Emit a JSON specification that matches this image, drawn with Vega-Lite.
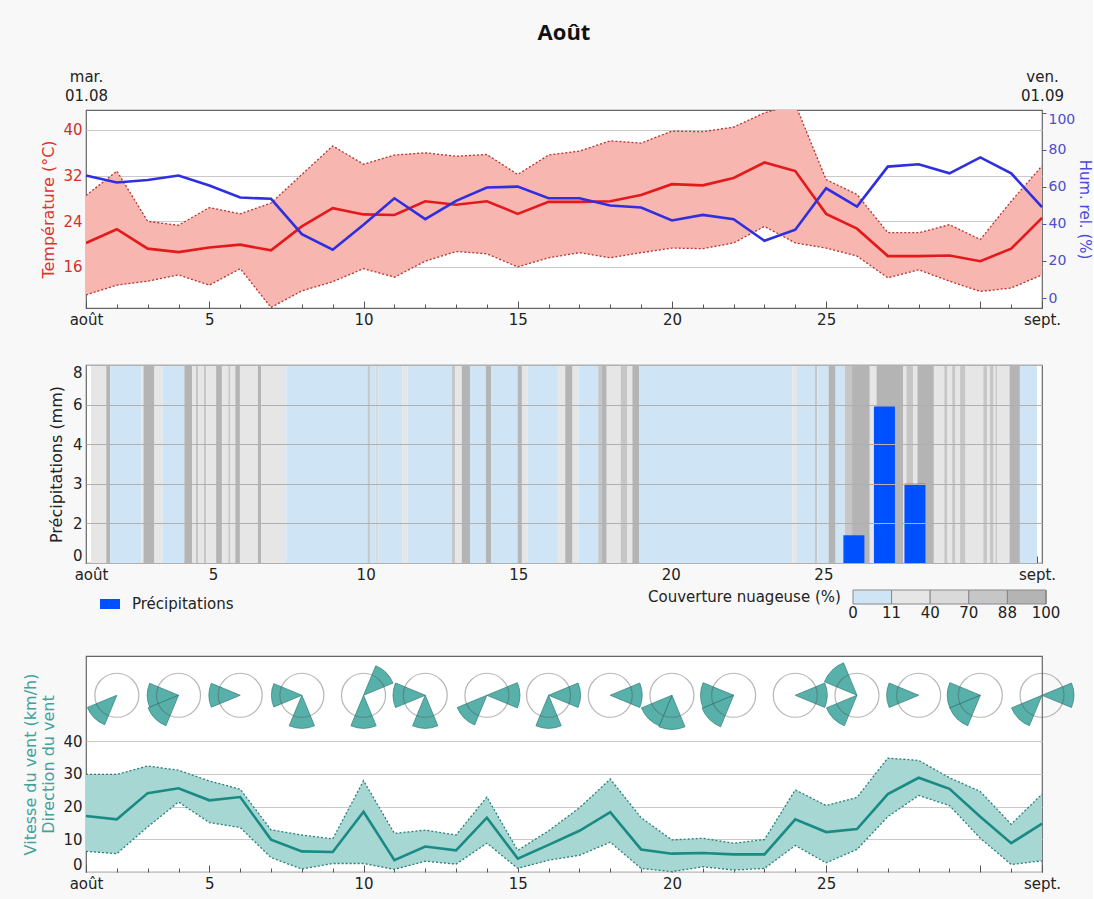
{
  "$schema": "https://vega.github.io/schema/vega-lite/v6.json",
  "background": "#f8f8f8",
  "padding": {"left": 22, "right": 0, "top": 21, "bottom": 4},
  "config": {
    "view": {"fill": "#ffffff", "stroke": "#666666", "strokeWidth": 1.2},
    "axis": {"labelFont": "DejaVu Sans", "titleFont": "DejaVu Sans", "labelFontSize": 15, "titleFontSize": 16, "titleFontWeight": "normal", "labelColor": "#222222", "titleColor": "#222222", "gridColor": "#c9c9c9", "domain": false},
    "legend": {"labelFont": "DejaVu Sans", "titleFont": "DejaVu Sans", "labelFontSize": 15, "titleFontSize": 15, "titleFontWeight": "normal", "labelColor": "#222222", "titleColor": "#222222"}
  },
  "datasets": {
    "temp": [
      {"jour": 1, "tmin": 11.1, "tmoy": 20.2, "tmax": 28.5, "hum": 66.2},
      {"jour": 2, "tmin": 12.8, "tmoy": 22.6, "tmax": 32.8, "hum": 62.4},
      {"jour": 3, "tmin": 13.5, "tmoy": 19.2, "tmax": 24.0, "hum": 63.8},
      {"jour": 4, "tmin": 14.6, "tmoy": 18.6, "tmax": 23.3, "hum": 66.2},
      {"jour": 5, "tmin": 12.8, "tmoy": 19.4, "tmax": 26.4, "hum": 60.8},
      {"jour": 6, "tmin": 15.7, "tmoy": 19.9, "tmax": 25.3, "hum": 54.3},
      {"jour": 7, "tmin": 8.9, "tmoy": 18.9, "tmax": 27.2, "hum": 53.6},
      {"jour": 8, "tmin": 11.8, "tmoy": 23.1, "tmax": 32.2, "hum": 34.5},
      {"jour": 9, "tmin": 13.4, "tmoy": 26.3, "tmax": 37.2, "hum": 26.1},
      {"jour": 10, "tmin": 15.7, "tmoy": 25.2, "tmax": 34.0, "hum": 39.6},
      {"jour": 11, "tmin": 14.2, "tmoy": 25.1, "tmax": 35.6, "hum": 53.9},
      {"jour": 12, "tmin": 17.0, "tmoy": 27.5, "tmax": 36.0, "hum": 42.6},
      {"jour": 13, "tmin": 18.7, "tmoy": 26.9, "tmax": 35.4, "hum": 52.5},
      {"jour": 14, "tmin": 18.3, "tmoy": 27.5, "tmax": 35.7, "hum": 59.7},
      {"jour": 15, "tmin": 16.0, "tmoy": 25.3, "tmax": 32.2, "hum": 60.2},
      {"jour": 16, "tmin": 17.6, "tmoy": 27.4, "tmax": 35.6, "hum": 53.9},
      {"jour": 17, "tmin": 18.5, "tmoy": 27.4, "tmax": 36.3, "hum": 53.9},
      {"jour": 18, "tmin": 17.6, "tmoy": 27.5, "tmax": 38.1, "hum": 50.0},
      {"jour": 19, "tmin": 18.5, "tmoy": 28.6, "tmax": 37.7, "hum": 48.9},
      {"jour": 20, "tmin": 19.3, "tmoy": 30.5, "tmax": 39.8, "hum": 41.9},
      {"jour": 21, "tmin": 19.2, "tmoy": 30.3, "tmax": 39.7, "hum": 44.9},
      {"jour": 22, "tmin": 20.2, "tmoy": 31.6, "tmax": 40.5, "hum": 42.6},
      {"jour": 23, "tmin": 23.1, "tmoy": 34.3, "tmax": 43.0, "hum": 30.9},
      {"jour": 24, "tmin": 20.2, "tmoy": 32.8, "tmax": 44.5, "hum": 36.9},
      {"jour": 25, "tmin": 19.3, "tmoy": 25.3, "tmax": 31.3, "hum": 59.3},
      {"jour": 26, "tmin": 17.9, "tmoy": 22.7, "tmax": 28.7, "hum": 49.4},
      {"jour": 27, "tmin": 14.1, "tmoy": 17.9, "tmax": 22.0, "hum": 71.0},
      {"jour": 28, "tmin": 15.5, "tmoy": 17.9, "tmax": 22.0, "hum": 72.3},
      {"jour": 29, "tmin": 13.5, "tmoy": 18.0, "tmax": 23.4, "hum": 67.4},
      {"jour": 30, "tmin": 11.7, "tmoy": 17.0, "tmax": 20.8, "hum": 76.0},
      {"jour": 31, "tmin": 12.3, "tmoy": 19.2, "tmax": 27.5, "hum": 67.4},
      {"jour": 32, "tmin": 14.6, "tmoy": 24.6, "tmax": 33.7, "hum": 49.1}
    ],
    "vent": [
      {"jour": 1, "vmin": 6.3, "vmoy": 17.1, "vmax": 29.8},
      {"jour": 2, "vmin": 5.6, "vmoy": 16.1, "vmax": 29.8},
      {"jour": 3, "vmin": 13.8, "vmoy": 24.1, "vmax": 32.4},
      {"jour": 4, "vmin": 21.4, "vmoy": 25.6, "vmax": 31.1},
      {"jour": 5, "vmin": 15.1, "vmoy": 21.9, "vmax": 27.8},
      {"jour": 6, "vmin": 13.6, "vmoy": 22.9, "vmax": 25.3},
      {"jour": 7, "vmin": 4.4, "vmoy": 9.9, "vmax": 12.9},
      {"jour": 8, "vmin": 0.9, "vmoy": 6.3, "vmax": 11.3},
      {"jour": 9, "vmin": 2.6, "vmoy": 6.1, "vmax": 10.1},
      {"jour": 10, "vmin": 2.6, "vmoy": 18.4, "vmax": 27.9},
      {"jour": 11, "vmin": 0.8, "vmoy": 3.6, "vmax": 11.8},
      {"jour": 12, "vmin": 3.3, "vmoy": 7.8, "vmax": 12.8},
      {"jour": 13, "vmin": 2.4, "vmoy": 6.6, "vmax": 11.3},
      {"jour": 14, "vmin": 8.8, "vmoy": 16.6, "vmax": 22.9},
      {"jour": 15, "vmin": 1.1, "vmoy": 4.1, "vmax": 6.6},
      {"jour": 16, "vmin": 3.6, "vmoy": 8.3, "vmax": 12.6},
      {"jour": 17, "vmin": 5.1, "vmoy": 12.6, "vmax": 19.6},
      {"jour": 18, "vmin": 9.1, "vmoy": 18.3, "vmax": 28.4},
      {"jour": 19, "vmin": 1.1, "vmoy": 6.9, "vmax": 16.6},
      {"jour": 20, "vmin": 0.1, "vmoy": 5.6, "vmax": 9.8},
      {"jour": 21, "vmin": 1.6, "vmoy": 5.8, "vmax": 10.3},
      {"jour": 22, "vmin": 0.6, "vmoy": 5.4, "vmax": 8.8},
      {"jour": 23, "vmin": 1.1, "vmoy": 5.4, "vmax": 9.9},
      {"jour": 24, "vmin": 8.1, "vmoy": 16.1, "vmax": 25.1},
      {"jour": 25, "vmin": 2.8, "vmoy": 12.2, "vmax": 20.3},
      {"jour": 26, "vmin": 6.9, "vmoy": 13.1, "vmax": 22.8},
      {"jour": 27, "vmin": 16.9, "vmoy": 23.8, "vmax": 34.8},
      {"jour": 28, "vmin": 23.4, "vmoy": 28.8, "vmax": 34.1},
      {"jour": 29, "vmin": 20.3, "vmoy": 25.4, "vmax": 28.8},
      {"jour": 30, "vmin": 10.3, "vmoy": 16.9, "vmax": 24.6},
      {"jour": 31, "vmin": 2.3, "vmoy": 8.8, "vmax": 14.6},
      {"jour": 32, "vmin": 3.4, "vmoy": 14.8, "vmax": 23.8}
    ],
    "pluie": [
      {"jour": 26, "precip": 1.4},
      {"jour": 27, "precip": 5.9},
      {"jour": 28, "precip": 3.0}
    ],
    "nuages": [
      {"debut": 1.00, "fin": 1.50, "classe": 2}, {"debut": 1.50, "fin": 1.63, "classe": 5},
      {"debut": 1.63, "fin": 2.65, "classe": 1}, {"debut": 2.65, "fin": 2.72, "classe": 2},
      {"debut": 2.72, "fin": 3.08, "classe": 5}, {"debut": 3.08, "fin": 3.35, "classe": 2},
      {"debut": 3.35, "fin": 4.06, "classe": 1}, {"debut": 4.06, "fin": 4.32, "classe": 5},
      {"debut": 4.32, "fin": 4.44, "classe": 2}, {"debut": 4.44, "fin": 4.52, "classe": 4},
      {"debut": 4.52, "fin": 4.70, "classe": 2}, {"debut": 4.70, "fin": 4.78, "classe": 4},
      {"debut": 4.78, "fin": 5.10, "classe": 2}, {"debut": 5.10, "fin": 5.29, "classe": 5},
      {"debut": 5.29, "fin": 5.50, "classe": 2}, {"debut": 5.50, "fin": 5.57, "classe": 4},
      {"debut": 5.57, "fin": 5.73, "classe": 2}, {"debut": 5.73, "fin": 5.88, "classe": 5},
      {"debut": 5.88, "fin": 6.47, "classe": 2}, {"debut": 6.47, "fin": 6.58, "classe": 5},
      {"debut": 6.58, "fin": 7.40, "classe": 2}, {"debut": 7.40, "fin": 10.06, "classe": 1},
      {"debut": 10.06, "fin": 10.14, "classe": 4}, {"debut": 10.14, "fin": 10.32, "classe": 1},
      {"debut": 10.32, "fin": 10.42, "classe": 3}, {"debut": 10.42, "fin": 11.20, "classe": 1},
      {"debut": 11.20, "fin": 11.38, "classe": 2}, {"debut": 11.38, "fin": 12.83, "classe": 1},
      {"debut": 12.83, "fin": 12.94, "classe": 4}, {"debut": 12.94, "fin": 13.15, "classe": 2},
      {"debut": 13.15, "fin": 13.42, "classe": 5}, {"debut": 13.42, "fin": 13.94, "classe": 1},
      {"debut": 13.94, "fin": 14.12, "classe": 5}, {"debut": 14.12, "fin": 14.98, "classe": 1},
      {"debut": 14.98, "fin": 15.12, "classe": 5}, {"debut": 15.12, "fin": 15.30, "classe": 2},
      {"debut": 15.30, "fin": 16.30, "classe": 1}, {"debut": 16.30, "fin": 16.54, "classe": 2},
      {"debut": 16.54, "fin": 16.78, "classe": 5}, {"debut": 16.78, "fin": 16.97, "classe": 2},
      {"debut": 16.97, "fin": 17.62, "classe": 1}, {"debut": 17.62, "fin": 17.74, "classe": 4},
      {"debut": 17.74, "fin": 17.90, "classe": 5}, {"debut": 17.90, "fin": 18.36, "classe": 2},
      {"debut": 18.36, "fin": 18.58, "classe": 4}, {"debut": 18.58, "fin": 18.74, "classe": 2},
      {"debut": 18.74, "fin": 18.96, "classe": 5}, {"debut": 18.96, "fin": 23.98, "classe": 1},
      {"debut": 23.98, "fin": 24.13, "classe": 2}, {"debut": 24.13, "fin": 24.72, "classe": 1},
      {"debut": 24.72, "fin": 24.80, "classe": 4}, {"debut": 24.80, "fin": 25.17, "classe": 1},
      {"debut": 25.17, "fin": 25.40, "classe": 5}, {"debut": 25.40, "fin": 25.70, "classe": 1},
      {"debut": 25.70, "fin": 25.94, "classe": 4}, {"debut": 25.94, "fin": 26.52, "classe": 5},
      {"debut": 26.52, "fin": 26.74, "classe": 2}, {"debut": 26.74, "fin": 27.62, "classe": 5},
      {"debut": 27.62, "fin": 27.72, "classe": 2}, {"debut": 27.72, "fin": 27.95, "classe": 4},
      {"debut": 27.95, "fin": 28.08, "classe": 2}, {"debut": 28.08, "fin": 28.62, "classe": 5},
      {"debut": 28.62, "fin": 28.96, "classe": 2}, {"debut": 28.96, "fin": 29.07, "classe": 4},
      {"debut": 29.07, "fin": 29.22, "classe": 2}, {"debut": 29.22, "fin": 29.33, "classe": 4},
      {"debut": 29.33, "fin": 29.48, "classe": 2}, {"debut": 29.48, "fin": 29.66, "classe": 4},
      {"debut": 29.66, "fin": 30.24, "classe": 2}, {"debut": 30.24, "fin": 30.36, "classe": 4},
      {"debut": 30.36, "fin": 30.46, "classe": 2}, {"debut": 30.46, "fin": 30.58, "classe": 4},
      {"debut": 30.58, "fin": 30.64, "classe": 2}, {"debut": 30.64, "fin": 30.70, "classe": 4},
      {"debut": 30.70, "fin": 31.10, "classe": 2}, {"debut": 31.10, "fin": 31.44, "classe": 5},
      {"debut": 31.44, "fin": 32.00, "classe": 1}
    ],
    "roses": [
      {"jour": 2}, {"jour": 4}, {"jour": 6}, {"jour": 8}, {"jour": 10}, {"jour": 12}, {"jour": 14}, {"jour": 16},
      {"jour": 18}, {"jour": 20}, {"jour": 22}, {"jour": 24}, {"jour": 26}, {"jour": 28}, {"jour": 30}, {"jour": 32}
    ],
    "secteurs": [
      {"jour": 2, "dir_debut": 202.5, "dir_fin": 247.5, "rayon": 1.45},
      {"jour": 4, "dir_debut": 247.5, "dir_fin": 292.5, "rayon": 1.42},
      {"jour": 4, "dir_debut": 202.5, "dir_fin": 247.5, "rayon": 1.5},
      {"jour": 6, "dir_debut": 247.5, "dir_fin": 292.5, "rayon": 1.42},
      {"jour": 8, "dir_debut": 247.5, "dir_fin": 292.5, "rayon": 1.38},
      {"jour": 8, "dir_debut": 157.5, "dir_fin": 202.5, "rayon": 1.5},
      {"jour": 10, "dir_debut": 22.5, "dir_fin": 67.5, "rayon": 1.45},
      {"jour": 10, "dir_debut": 157.5, "dir_fin": 202.5, "rayon": 1.5},
      {"jour": 12, "dir_debut": 247.5, "dir_fin": 292.5, "rayon": 1.46},
      {"jour": 12, "dir_debut": 157.5, "dir_fin": 202.5, "rayon": 1.5},
      {"jour": 14, "dir_debut": 67.5, "dir_fin": 112.5, "rayon": 1.5},
      {"jour": 14, "dir_debut": 202.5, "dir_fin": 247.5, "rayon": 1.46},
      {"jour": 16, "dir_debut": 67.5, "dir_fin": 112.5, "rayon": 1.45},
      {"jour": 16, "dir_debut": 157.5, "dir_fin": 202.5, "rayon": 1.5},
      {"jour": 18, "dir_debut": 67.5, "dir_fin": 112.5, "rayon": 1.45},
      {"jour": 20, "dir_debut": 157.5, "dir_fin": 202.5, "rayon": 1.55},
      {"jour": 20, "dir_debut": 202.5, "dir_fin": 247.5, "rayon": 1.5},
      {"jour": 22, "dir_debut": 247.5, "dir_fin": 292.5, "rayon": 1.5},
      {"jour": 22, "dir_debut": 202.5, "dir_fin": 247.5, "rayon": 1.55},
      {"jour": 24, "dir_debut": 67.5, "dir_fin": 112.5, "rayon": 1.45},
      {"jour": 26, "dir_debut": 292.5, "dir_fin": 337.5, "rayon": 1.6},
      {"jour": 26, "dir_debut": 202.5, "dir_fin": 247.5, "rayon": 1.5},
      {"jour": 28, "dir_debut": 247.5, "dir_fin": 292.5, "rayon": 1.45},
      {"jour": 30, "dir_debut": 247.5, "dir_fin": 292.5, "rayon": 1.5},
      {"jour": 30, "dir_debut": 202.5, "dir_fin": 247.5, "rayon": 1.5},
      {"jour": 32, "dir_debut": 67.5, "dir_fin": 112.5, "rayon": 1.45},
      {"jour": 32, "dir_debut": 202.5, "dir_fin": 247.5, "rayon": 1.5}
    ]
  },
  "spacing": 33,
  "vconcat": [
    {
      "width": 956,
      "height": 198,
      "title": {"text": "Août", "font": "Open Sans", "fontSize": 22, "fontWeight": "bold", "color": "#111111", "anchor": "middle", "frame": "group", "offset": 24},
      "resolve": {"scale": {"y": "independent"}, "axis": {"x": "independent"}},
      "layer": [
        {
          "data": {"name": "temp"},
          "encoding": {
            "x": {"field": "jour", "type": "quantitative", "scale": {"domain": [1, 32], "nice": false, "zero": false},
              "axis": {"values": [1,2,3,4,5,6,7,8,9,10,11,12,13,14,15,16,17,18,19,20,21,22,23,24,25,26,27,28,29,30,31,32],
                "labelExpr": "datum.value == 1 ? 'août' : datum.value == 32 ? 'sept.' : (datum.value % 5 == 0 && datum.value < 30) ? datum.label : ''",
                "tickSize": {"condition": {"test": "datum.value % 5 == 0 || datum.value == 1 || datum.value == 32", "value": -7}, "value": -4},
                "tickColor": "#555555", "labelPadding": 11, "labelFlush": false, "labelOverlap": false, "grid": false, "title": null}}
          },
          "layer": [
            {
              "mark": {"type": "area", "color": "#f8b6b0", "opacity": 1, "clip": true},
              "encoding": {
                "y": {"field": "tmin", "type": "quantitative", "scale": {"domain": [8.8, 43.5], "nice": false, "zero": false},
                  "axis": {"values": [16, 24, 32, 40], "title": "Température (°C)", "titleColor": "#e2322f", "labelColor": "#d0302c", "grid": true, "ticks": false, "labelPadding": 4, "titlePadding": 6}},
                "y2": {"field": "tmax"}
              }
            },
            {
              "mark": {"type": "line", "color": "#b8322c", "strokeWidth": 1.3, "strokeDash": [2, 2], "clip": true},
              "encoding": {"y": {"field": "tmax", "type": "quantitative"}}
            },
            {
              "mark": {"type": "line", "color": "#b8322c", "strokeWidth": 1.3, "strokeDash": [2, 2], "clip": true},
              "encoding": {"y": {"field": "tmin", "type": "quantitative"}}
            },
            {
              "mark": {"type": "line", "color": "#e3191c", "strokeWidth": 2.6, "clip": true},
              "encoding": {"y": {"field": "tmoy", "type": "quantitative"}}
            }
          ]
        },
        {
          "data": {"name": "temp"},
          "mark": {"type": "line", "color": "#2f2fe0", "strokeWidth": 2.6},
          "encoding": {
            "x": {"field": "jour", "type": "quantitative", "scale": {"domain": [1, 32], "nice": false, "zero": false},
              "axis": {"orient": "top", "values": [1, 32], "labelExpr": "datum.value == 1 ? ['mar.', '01.08'] : ['ven.', '01.09']",
                "ticks": false, "grid": false, "labelFlush": false, "labelPadding": 26, "labelLineHeight": 19, "title": null}},
            "y": {"field": "hum", "type": "quantitative", "scale": {"domain": [-5.4, 101.6], "nice": false, "zero": false},
              "axis": {"orient": "right", "values": [0, 20, 40, 60, 80, 100], "title": "Hum. rel. (%)", "titleColor": "#4a4ae0", "labelColor": "#4d4dcc",
                "grid": false, "tickSize": 4, "tickColor": "#4d4dcc", "labelPadding": 2, "titlePadding": 2, "labelFontSize": 14, "titleFontSize": 15,
                "labelBaseline": {"condition": {"test": "datum.value == 100", "value": "top"}, "value": "middle"}}}
          }
        }
      ]
    },
    {
      "width": 956,
      "height": 198,
      "resolve": {"scale": {"color": "independent"}},
      "encoding": {
        "x": {"field": "jour", "type": "quantitative", "scale": {"domain": [1, 32], "nice": false, "zero": false},
          "axis": {"values": [1,2,3,4,5,6,7,8,9,10,11,12,13,14,15,16,17,18,19,20,21,22,23,24,25,26,27,28,29,30,31,32],
            "labelExpr": "datum.value == 1 ? 'août' : datum.value == 32 ? 'sept.' : (datum.value % 5 == 0 && datum.value < 30) ? datum.label : ''",
            "tickSize": {"condition": {"test": "datum.value % 5 == 0 || datum.value == 1 || datum.value == 32", "value": -7}, "value": -4},
            "tickColor": "#555555", "labelPadding": 11, "labelFlush": false, "labelOverlap": false, "grid": false, "title": null}}
      },
      "layer": [
        {
          "data": {"name": "nuages"},
          "mark": {"type": "rect", "strokeWidth": 0},
          "encoding": {
            "x": {"field": "debut", "type": "quantitative", "scale": {"domain": [1, 32], "nice": false, "zero": false}},
            "x2": {"field": "fin"},
            "color": {"field": "classe", "type": "quantitative",
              "scale": {"type": "quantize", "domain": [0.5, 5.5], "range": ["#cfe5f6", "#e6e6e6", "#dadada", "#c6c6c6", "#b4b4b4"]},
              "legend": {"type": "gradient", "direction": "horizontal", "orient": "none", "legendX": 562, "legendY": 225,
                "title": "Couverture nuageuse (%)", "titleOrient": "left", "titlePadding": 12, "titleLimit": 400, "gradientLength": 193, "gradientThickness": 14,
                "gradientStrokeColor": "#888888", "gradientStrokeWidth": 1, "values": [0.5, 1.5, 2.5, 3.5, 4.5, 5.5], "labelAlign": "center",
                "encode": {"labels": {"update": {"align": {"value": "center"}}}},
                "labelExpr": "datum.value < 1 ? '0' : datum.value < 2 ? '11' : datum.value < 3 ? '40' : datum.value < 4 ? '70' : datum.value < 5 ? '88' : '100'"}}
          }
        },
        {
          "data": {"name": "pluie"},
          "mark": {"type": "bar", "width": 21},
          "encoding": {
            "y": {"field": "precip", "type": "quantitative",
              "scale": {"domain": [0, 2, 3, 4, 6, 8], "range": [198, 158.4, 118.8, 79.2, 39.6, 0], "nice": false, "zero": false},
              "axis": {"values": [0, 2, 3, 4, 6, 8], "title": "Précipitations (mm)", "grid": true, "gridColor": "#b0b0b0", "zindex": 1, "ticks": false, "labelPadding": 4, "titlePadding": 8,
                "labelBaseline": {"condition": [{"test": "datum.value == 0", "value": "bottom"}, {"test": "datum.value == 8", "value": "top"}], "value": "middle"}}},
            "color": {"datum": "Précipitations", "type": "nominal", "scale": {"range": ["#0050ff"]},
              "legend": {"orient": "none", "legendX": 14, "legendY": 229, "title": null, "symbolType": "M-1,-0.5H1V0.5H-1Z", "symbolSize": 400, "symbolStrokeWidth": 0, "labelOffset": 12}}
          }
        }
      ]
    },
    {
      "width": 956,
      "height": 216,
      "encoding": {
        "x": {"field": "jour", "type": "quantitative", "scale": {"domain": [1, 32], "nice": false, "zero": false},
          "axis": {"values": [1,2,3,4,5,6,7,8,9,10,11,12,13,14,15,16,17,18,19,20,21,22,23,24,25,26,27,28,29,30,31,32],
            "labelExpr": "datum.value == 1 ? 'août' : datum.value == 32 ? 'sept.' : (datum.value % 5 == 0 && datum.value < 30) ? datum.label : ''",
            "tickSize": {"condition": {"test": "datum.value % 5 == 0 || datum.value == 1 || datum.value == 32", "value": -7}, "value": -4},
            "tickColor": "#555555", "labelPadding": 11, "labelFlush": false, "labelOverlap": false, "grid": false, "title": null}}
      },
      "layer": [
        {
          "data": {"name": "vent"},
          "mark": {"type": "area", "color": "#a6d7d3", "opacity": 1},
          "encoding": {
            "y": {"field": "vmin", "type": "quantitative", "scale": {"domain": [0, 66], "nice": false, "zero": false},
              "axis": {"values": [0, 10, 20, 30, 40], "title": ["Vitesse du vent (km/h)", "Direction du vent"], "titleColor": "#3fa39b", "grid": true, "ticks": false, "labelPadding": 4, "titlePadding": 6, "titleLineHeight": 18,
                "labelBaseline": {"condition": {"test": "datum.value == 0", "value": "bottom"}, "value": "middle"}}},
            "y2": {"field": "vmax"}
          }
        },
        {
          "data": {"name": "vent"},
          "mark": {"type": "line", "color": "#2a7f7a", "strokeWidth": 1.3, "strokeDash": [2, 2]},
          "encoding": {"y": {"field": "vmax", "type": "quantitative"}}
        },
        {
          "data": {"name": "vent"},
          "mark": {"type": "line", "color": "#2a7f7a", "strokeWidth": 1.3, "strokeDash": [2, 2]},
          "encoding": {"y": {"field": "vmin", "type": "quantitative"}}
        },
        {
          "data": {"name": "vent"},
          "mark": {"type": "line", "color": "#1a8a84", "strokeWidth": 2.6},
          "encoding": {"y": {"field": "vmoy", "type": "quantitative"}}
        },
        {
          "data": {"name": "secteurs"},
          "mark": {"type": "arc", "color": "#4aaaa3", "opacity": 0.92, "stroke": "#2b7c76", "strokeWidth": 0.8},
          "encoding": {
            "x": {"field": "jour", "type": "quantitative", "stack": null},
            "y": {"datum": 54, "type": "quantitative"},
            "theta": {"field": "dir_debut", "type": "quantitative", "stack": null, "scale": {"domain": [0, 360], "range": [0, 6.283185307]}},
            "theta2": {"field": "dir_fin"},
            "radius": {"field": "rayon", "type": "quantitative", "scale": {"type": "linear", "domain": [0, 1], "range": [0, 22], "nice": false, "zero": true}}
          }
        },
        {
          "data": {"name": "roses"},
          "mark": {"type": "point", "shape": "circle", "filled": false, "size": 1936, "stroke": "#555555", "strokeOpacity": 0.6, "strokeWidth": 1.2},
          "encoding": {
            "y": {"datum": 54, "type": "quantitative"}
          }
        }
      ]
    }
  ]
}
